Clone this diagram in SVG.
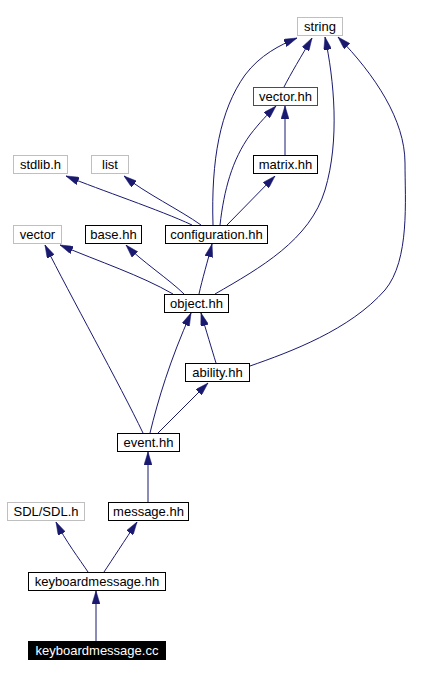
<svg xmlns="http://www.w3.org/2000/svg" width="424" height="678" viewBox="0 0 424 678">
<style>
.n rect{fill:#fff;stroke:#000;stroke-width:1}
.n.ext rect{stroke:#bfbfbf}
.n.red rect{stroke:#ff0000}
.n.cur rect{fill:#000;stroke:#000}
.n text{font-family:"Liberation Sans",Arial,sans-serif;font-size:13px;fill:#000;text-anchor:middle}
.n.cur text{fill:#fff}
#edges path{fill:none;stroke:#191970;stroke-width:1;marker-end:url(#arr)}
</style>
<defs>
<marker id="arr" viewBox="0 0 13 8" refX="13" refY="4" markerWidth="13" markerHeight="8" markerUnits="userSpaceOnUse" orient="auto">
<path d="M0,0 L13,4 L0,8 z" fill="#191970" stroke="#191970" stroke-width="0.5"/>
</marker>
</defs>
<rect width="424" height="678" fill="#fff"/>
<g id="edges">
<path d="M284,87 C290,75 302,55 312,38"/>
<path d="M285,155 L285,106"/>
<path d="M213,225 C211,160 220,110 245,75 C260,55 280,45 297,38"/>
<path d="M220,225 C224,190 232,160 250,135 C260,122 268,114 276,106"/>
<path d="M227,225 L275,176"/>
<path d="M192,225 C160,210 100,190 66,176"/>
<path d="M201,225 C180,210 145,193 124,176"/>
<path d="M173,294 C140,275 100,262 60,245"/>
<path d="M184,294 C170,280 140,260 126,245"/>
<path d="M199,294 C202,280 208,260 212,244"/>
<path d="M215,294 C260,268 310,240 325,190 C340,140 334,80 325,37"/>
<path d="M250,366 C290,352 350,330 385,290 C410,260 405,200 405,163 C405,120 375,75 338,37"/>
<path d="M216,363 C212,350 206,330 201,313"/>
<path d="M150,433 C158,400 170,360 191,313"/>
<path d="M158,433 L208,383"/>
<path d="M143,433 C120,385 70,295 45,245"/>
<path d="M148,502 L148,452"/>
<path d="M88,572 C80,560 65,540 56,522"/>
<path d="M104,572 C112,560 125,540 137,522"/>
<path d="M96,641 L96,591"/>
</g>
<g id="string" class="n ext"><rect x="297.5" y="17.5" width="45" height="18"/><text x="320" y="31">string</text></g>
<g id="vector_hh" class="n red"><rect x="253.5" y="87.5" width="64" height="18"/><text x="285.5" y="101">vector.hh</text></g>
<g id="matrix_hh" class="n"><rect x="253.5" y="155.5" width="64" height="18"/><text x="285.5" y="169">matrix.hh</text></g>
<g id="stdlib_h" class="n ext"><rect x="13.5" y="155.5" width="54" height="18"/><text x="40.5" y="169">stdlib.h</text></g>
<g id="list" class="n ext"><rect x="91.5" y="155.5" width="37" height="18"/><text x="110" y="169">list</text></g>
<g id="vector" class="n ext"><rect x="13.5" y="225.5" width="48" height="18"/><text x="37.5" y="239">vector</text></g>
<g id="base_hh" class="n"><rect x="85.5" y="225.5" width="56" height="18"/><text x="113.5" y="239">base.hh</text></g>
<g id="configuration_hh" class="n"><rect x="165.5" y="225.5" width="102" height="18"/><text x="216.5" y="239">configuration.hh</text></g>
<g id="object_hh" class="n"><rect x="164.5" y="294.5" width="64" height="18"/><text x="196.5" y="308">object.hh</text></g>
<g id="ability_hh" class="n"><rect x="185.5" y="363.5" width="64" height="18"/><text x="217.5" y="377">ability.hh</text></g>
<g id="event_hh" class="n"><rect x="117.5" y="433.5" width="62" height="18"/><text x="148.5" y="447">event.hh</text></g>
<g id="SDL_SDL_h" class="n ext"><rect x="7.5" y="502.5" width="77" height="18"/><text x="46" y="516">SDL/SDL.h</text></g>
<g id="message_hh" class="n"><rect x="108.5" y="502.5" width="80" height="18"/><text x="148.5" y="516">message.hh</text></g>
<g id="keyboardmessage_hh" class="n"><rect x="28.5" y="572.5" width="137" height="18"/><text x="97" y="586">keyboardmessage.hh</text></g>
<g id="keyboardmessage_cc" class="n cur"><rect x="28.5" y="641.5" width="137" height="18"/><text x="97" y="655">keyboardmessage.cc</text></g>
</svg>
